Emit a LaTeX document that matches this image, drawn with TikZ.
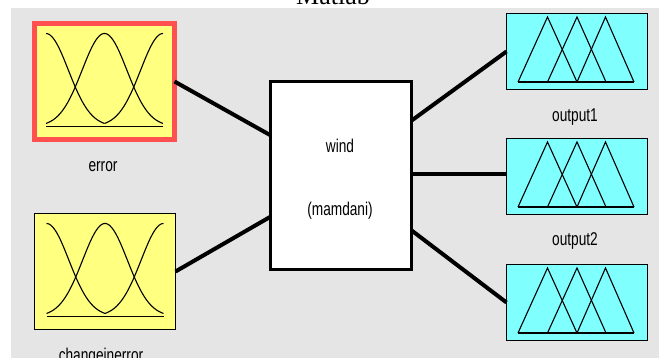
\documentclass[tikz,border=0pt]{standalone}
\usepackage{fontspec}
\setmainfont{Liberation Serif}
\newfontfamily\labfont[FakeStretch=0.74]{Liberation Sans}
\definecolor{panel}{HTML}{E5E5E5}
\definecolor{inyellow}{HTML}{FFFF80}
\definecolor{outcyan}{HTML}{80FFFF}
\definecolor{selred}{HTML}{FF4F4F}

% three Gaussian membership functions inside an input box
\newcommand\gaussset[1]{%
  \begin{scope}[shift={(#1.center)}]
    \draw[mfline] plot[domain=-58.5:0,samples=40] (\x,{45-93*exp(-((\x+58.5)*(\x+58.5)/1000))});
    \draw[mfline] plot[domain=-58.5:58.5,samples=80] (\x,{45-93*exp(-((\x)*(\x)/1000))});
    \draw[mfline] plot[domain=0:58.5,samples=40] (\x,{45-93*exp(-((\x-58.5)*(\x-58.5)/1000))});
    \draw[line width=1.5pt] (-58.5,45) -- (58.5,45);
  \end{scope}}
% three triangular membership functions inside an output box
\newcommand\triset[1]{%
  \begin{scope}[shift={(#1.center)}]
    \draw[mfline] (-59,30.5) -- (-29.5,-34.5) -- (0,30.5);
    \draw[mfline] (-29.5,30.5) -- (0,-34.5) -- (29,30.5);
    \draw[mfline] (0,30.5) -- (28.5,-34.5) -- (57,30.5);
    \draw[line width=1.3pt] (-59,30.5) -- (57,30.5);
  \end{scope}}

\begin{document}
\begin{tikzpicture}[x=1pt,y=-1pt,
  inbox/.style={draw=black,line width=1.2pt,fill=inyellow,minimum width=141pt,minimum height=116pt,inner sep=0pt,outer sep=0pt},
  selbox/.style={inbox,draw=selred,line width=5pt,minimum width=140pt},
  outbox/.style={draw=black,line width=1.2pt,fill=outcyan,minimum width=141pt,minimum height=76pt,inner sep=0pt,outer sep=0pt},
  sysbox/.style={draw=black,line width=3pt,fill=white,minimum width=141pt,minimum height=188pt,inner sep=0pt,outer sep=0pt},
  lab/.style={font=\labfont\fontsize{18.5}{20}\selectfont,text=black,anchor=base,inner sep=0pt},
  link/.style={line width=4pt},
  mfline/.style={line width=1.1pt,black}]
  \useasboundingbox (0,0) rectangle (659,358);
  \clip (0,0) rectangle (659,358);
  % editor panel
  \fill[panel] (11,8) rectangle (659,358);
  \node[font=\fontsize{26}{28}\selectfont,anchor=base,inner sep=0pt] (title) at (333,4.5) {Matlab};

  % input variables
  \node[selbox] (err) at (104.5,81.5) {};
  \gaussset{err}
  \node[lab] (errlab) at (103,172) {error};
  \node[inbox] (cerr) at (105,271.5) {};
  \gaussset{cerr}
  \node[lab] (cerrlab) at (101,361) {changeinerror};

  % rule system
  \node[sysbox] (wind) at (340.5,176) {};
  \node[lab] (windlab) at (340,153) {wind};
  \node[lab] (typelab) at (340,216) {(mamdani)};

  % output variables
  \node[outbox] (out1) at (577,51.5) {};
  \triset{out1}
  \node[lab] (out1lab) at (575,122) {output1};
  \node[outbox] (out2) at (577,176.5) {};
  \triset{out2}
  \node[lab] (out2lab) at (575,246) {output2};
  \node[outbox] (out3) at (577,302.5) {};
  \triset{out3}
  \node[lab] (out3lab) at (575,371) {output3};

  % connections
  \draw[link] (err.east) -- ([yshift=41pt]wind.west);
  \draw[link] (cerr.east) -- ([yshift=-41pt]wind.west);
  \draw[link] ([yshift=55pt]wind.east) -- (out1.west);
  \draw[link] ([yshift=2pt]wind.east) -- ([yshift=2.5pt]out2.west);
  \draw[link] ([yshift=-54pt]wind.east) -- (out3.west);
\end{tikzpicture}
\end{document}
